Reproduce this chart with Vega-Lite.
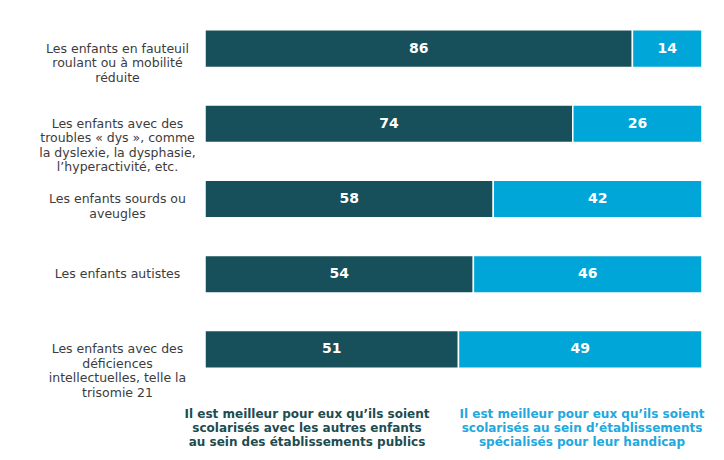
{
  "$schema": "https://vega.github.io/schema/vega-lite/v6.json",
  "width": 497,
  "height": 376,
  "autosize": {"type": "none"},
  "padding": {"left": 205, "top": 11, "right": 22, "bottom": 73},
  "background": "white",
  "data": {
    "values": [
      {"categorie": "Les enfants en fauteuil\nroulant ou à mobilité\nréduite", "serie": "Il est meilleur pour eux qu’ils soient\nscolarisés avec les  autres enfants\nau sein des établissements publics", "valeur": 86},
      {"categorie": "Les enfants en fauteuil\nroulant ou à mobilité\nréduite", "serie": "Il est meilleur pour eux qu’ils soient\nscolarisés au sein d’établissements\nspécialisés pour leur handicap", "valeur": 14},
      {"categorie": "Les enfants avec des\ntroubles « dys », comme\nla dyslexie, la dysphasie,\nl’hyperactivité, etc.", "serie": "Il est meilleur pour eux qu’ils soient\nscolarisés avec les  autres enfants\nau sein des établissements publics", "valeur": 74},
      {"categorie": "Les enfants avec des\ntroubles « dys », comme\nla dyslexie, la dysphasie,\nl’hyperactivité, etc.", "serie": "Il est meilleur pour eux qu’ils soient\nscolarisés au sein d’établissements\nspécialisés pour leur handicap", "valeur": 26},
      {"categorie": "Les enfants sourds ou\naveugles", "serie": "Il est meilleur pour eux qu’ils soient\nscolarisés avec les  autres enfants\nau sein des établissements publics", "valeur": 58},
      {"categorie": "Les enfants sourds ou\naveugles", "serie": "Il est meilleur pour eux qu’ils soient\nscolarisés au sein d’établissements\nspécialisés pour leur handicap", "valeur": 42},
      {"categorie": "Les enfants autistes", "serie": "Il est meilleur pour eux qu’ils soient\nscolarisés avec les  autres enfants\nau sein des établissements publics", "valeur": 54},
      {"categorie": "Les enfants autistes", "serie": "Il est meilleur pour eux qu’ils soient\nscolarisés au sein d’établissements\nspécialisés pour leur handicap", "valeur": 46},
      {"categorie": "Les enfants avec des\ndéficiences\nintellectuelles, telle la\ntrisomie 21", "serie": "Il est meilleur pour eux qu’ils soient\nscolarisés avec les  autres enfants\nau sein des établissements publics", "valeur": 51},
      {"categorie": "Les enfants avec des\ndéficiences\nintellectuelles, telle la\ntrisomie 21", "serie": "Il est meilleur pour eux qu’ils soient\nscolarisés au sein d’établissements\nspécialisés pour leur handicap", "valeur": 49}
    ]
  },
  "encoding": {
    "y": {
      "field": "categorie",
      "type": "nominal",
      "sort": null,
      "scale": {"paddingInner": 0.5, "paddingOuter": 0.25},
      "axis": {
        "title": null,
        "domain": false,
        "ticks": false,
        "tickSize": 0,
        "labelAlign": "center",
        "labelPadding": 88,
        "labelFont": "DejaVu Sans",
        "labelFontSize": 12.5,
        "labelColor": "#3c3c3c",
        "labelLimit": 0,
        "labelLineHeight": 14.5,
        "labelExpr": "split(datum.label, '\\n')"
      }
    }
  },
  "layer": [
    {
      "mark": {"type": "bar", "stroke": "white", "strokeWidth": 1.5},
      "encoding": {
        "x": {"field": "valeur", "type": "quantitative", "stack": "zero", "scale": {"domain": [0, 100]}, "axis": null},
        "color": {
          "field": "serie",
          "type": "nominal",
          "scale": {
            "domain": [
              "Il est meilleur pour eux qu’ils soient\nscolarisés avec les  autres enfants\nau sein des établissements publics",
              "Il est meilleur pour eux qu’ils soient\nscolarisés au sein d’établissements\nspécialisés pour leur handicap"
            ],
            "range": ["#17505a", "#00a6d8"]
          },
          "legend": {
            "orient": "bottom",
            "direction": "horizontal",
            "title": null,
            "symbolSize": 0,
            "symbolOpacity": 0,
            "symbolStrokeWidth": 0,
            "labelFont": "DejaVu Sans",
            "labelFontWeight": "bold",
            "labelFontSize": 12,
            "labelLimit": 0,
            "labelAlign": "center",
            "labelOffset": 90,
            "labelLineHeight": 14.5,
            "labelExpr": "split(datum.label, '\\n')",
            "labelColor": {"expr": "datum.index === 0 ? '#1d4d50' : '#22a8de'"},
            "columnPadding": 29,
            "offset": 21
          }
        },
        "order": {"field": "serie", "sort": "descending"}
      }
    },
    {
      "mark": {"type": "text", "color": "white", "font": "DejaVu Sans", "fontWeight": "bold", "fontSize": 14},
      "encoding": {
        "x": {"field": "valeur", "type": "quantitative", "stack": "zero", "bandPosition": 0.5},
        "detail": {"field": "serie"},
        "order": {"field": "serie", "sort": "descending"},
        "text": {"field": "valeur", "type": "quantitative"}
      }
    }
  ],
  "config": {"view": {"stroke": null}}
}
